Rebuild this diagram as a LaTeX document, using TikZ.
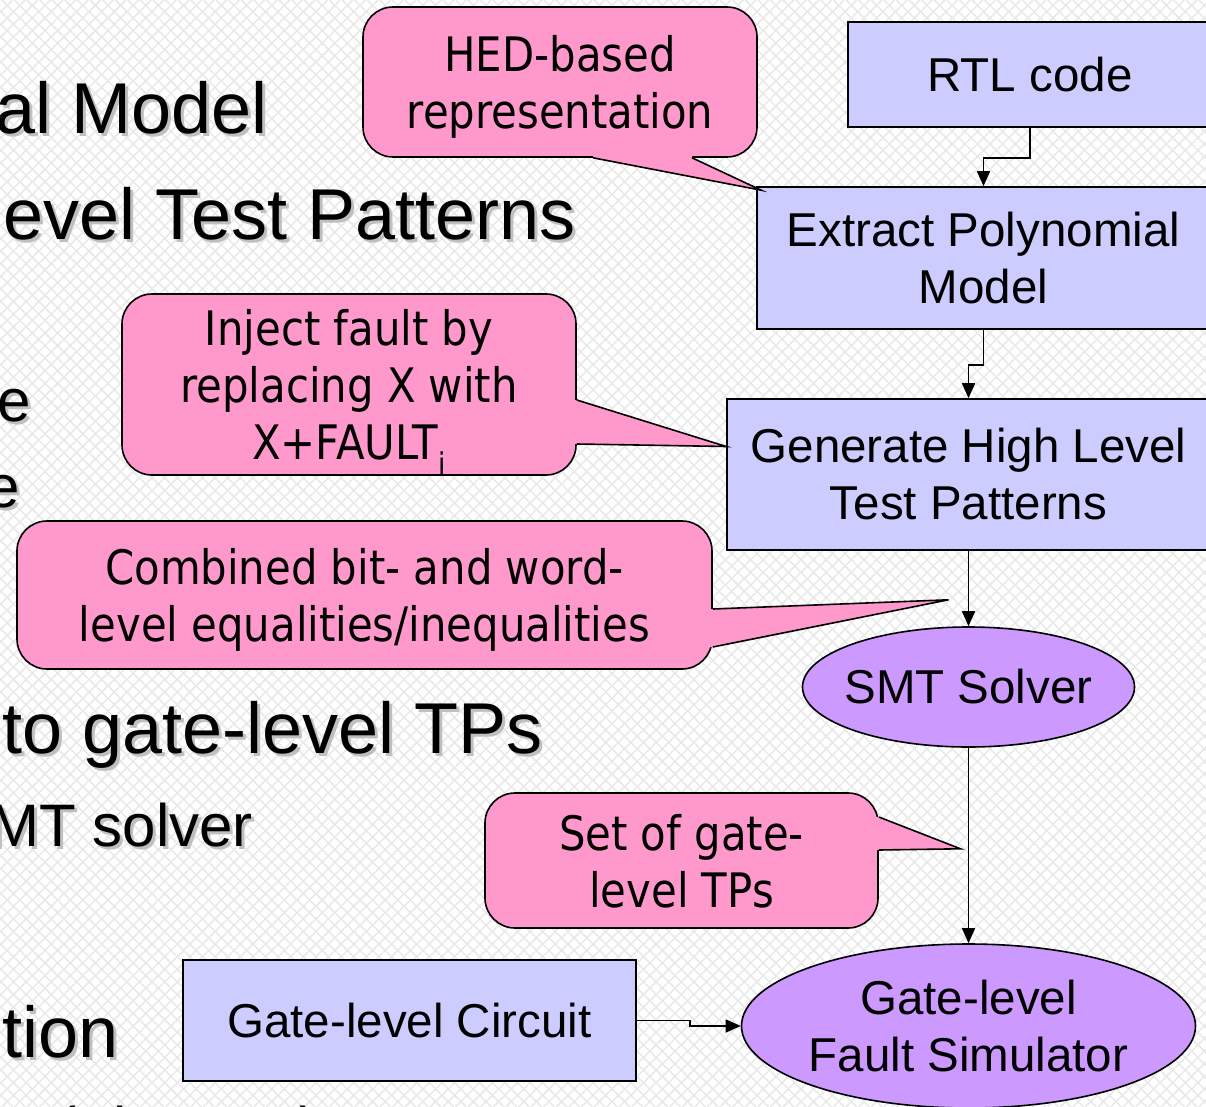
\documentclass[tikz,border=0pt]{standalone}
\usepackage{fontspec}
\setmainfont{Liberation Sans}
\newfontfamily\callfont[FakeStretch=0.88]{DejaVu Sans}
\usepackage{xcolor}
\usepackage{tikz}
\usetikzlibrary{arrows.meta}
\usetikzlibrary{calc}
\usetikzlibrary{positioning}
\usetikzlibrary{shapes.geometric}

\definecolor{boxblue}{RGB}{204,204,255}
\definecolor{callpink}{RGB}{255,153,204}
\definecolor{ovalviolet}{RGB}{204,153,255}
\definecolor{latticegray}{RGB}{233,233,233}

\begin{document}
\begin{tikzpicture}[x=1pt, y=-1pt,
    stagebox/.style={draw, line width=1.6pt, fill=boxblue, align=center,
      inner sep=0pt, font=\fontsize{47.5}{57}\selectfont},
    stageoval/.style={ellipse, draw, line width=1.6pt, fill=ovalviolet,
      align=center, inner sep=0pt, font=\fontsize{47.5}{57}\selectfont},
    remark/.style={draw, line width=1.6pt, fill=callpink, rounded corners=30pt,
      align=center, inner sep=0pt, text depth=0pt,
      font=\callfont\fontsize{47.5}{57}\selectfont},
    flow/.style={line width=1.6pt, -{Triangle[length=15pt,width=13pt]}},
    pointer/.style={line width=1.6pt, line join=miter},
    bigline/.style={font=\fontsize{72}{80}\selectfont, anchor=base east, inner sep=0pt},
    subline/.style={font=\fontsize{60}{66}\selectfont, anchor=base east, inner sep=0pt}]

    \useasboundingbox (0,0) rectangle (1206,1107);

    % slide background with the faint lattice and the cut bullet text
    \begin{scope}
      \clip (0,0) rectangle (1206,1107);
      \fill[white] (0,0) rectangle (1206,1107);
      \foreach \k in {0,...,185} {
        \draw[latticegray, line width=1.5pt] (\k*12.6,0) -- (\k*12.6-1107,1107);
        \draw[latticegray, line width=1.5pt] (\k*12.6-1107,0) -- (\k*12.6,1107);
      }
      \foreach \x/\y/\lvl/\txt [count=\i] in {268/134/bigline/al Model,
          576/240/bigline/evel Test Patterns, 31/421/subline/e, 20/507/subline/e,
          543/753/bigline/to gate-level TPs, 253/846/subline/MT solver,
          119/1057/bigline/tion, 320/1149/subline/(FlexTest)} {
        \node[\lvl, text=gray!50] (shade-\i) at (\x+3,\y+3) {\txt};
        \node[\lvl] (bullet-\i) at (\x,\y) {\txt};
      }
    \end{scope}

    % flow
    \node[stagebox, minimum width=364pt, minimum height=105pt] (rtl) at (1030,74.5) {RTL code};
    \node[stagebox, minimum width=453pt, minimum height=142pt] (extract) at (983.5,258)
      {Extract Polynomial\\Model};
    \node[stagebox, minimum width=483pt, minimum height=151pt] (generate) at (968.5,474.5)
      {Generate High Level\\Test Patterns};
    \node[stageoval, inner xsep=-7pt, minimum width=332pt, minimum height=120pt] (smt)
      at (968.5,687) {SMT Solver};
    \node[stageoval, minimum width=454pt, minimum height=164pt] (faultsim) at (968.5,1026)
      {Gate-level\\Fault Simulator};
    \node[stagebox, minimum width=453pt, minimum height=121pt] (circuit) at (409.5,1020.5)
      {Gate-level Circuit};

    \draw[flow] (rtl.south) -- ++(0,30) -| (extract.north);
    \draw[flow] (extract.south) -- ++(0,35) -| (generate.north);
    \draw[flow] (generate.south) -- (smt.north);
    \draw[flow] (smt.south) -- (faultsim.north);
    \draw[flow] (circuit.east) -- ++(53,0) |- (faultsim.west);

    % callouts
    \node[remark, minimum width=394pt, minimum height=150pt] (hed) at (560,82)
      {HED-based\\representation};
    \node[remark, minimum width=454pt, minimum height=181pt] (inject) at (349,384.5)
      {Inject fault by\\replacing X with\\X+FAULT\raisebox{-15pt}{\fontsize{30}{30}\selectfont i}};
    \node[remark, minimum width=695pt, minimum height=148pt] (combined) at (364.5,595)
      {Combined bit- and word-\\level equalities/inequalities};
    \node[remark, minimum width=393pt, minimum height=135pt] (tpset) at (681.5,860.5)
      {Set of gate-\\level TPs};

    \coordinate (hedtip) at ($(extract.north west)+(5,4)$);
    \coordinate (injecttip) at ($(generate.west)+(0,-28)$);
    \coordinate (combtip) at ($(generate.south)+(-20,49)$);
    \coordinate (settip) at ($(smt.south)+(-8,101)$);

    \fill[callpink] ($(hed.south)+(33,-5)$) -- ($(hed.south)+(33,0)$) -- (hedtip)
      -- ($(hed.south)+(132,0)$) -- ($(hed.south)+(132,-5)$) -- cycle;
    \draw[pointer] ($(hed.south)+(33,0)$) -- (hedtip) -- ($(hed.south)+(132,0)$);

    \fill[callpink] ($(inject.east)+(-5,15.5)$) -- ($(inject.east)+(0,15.5)$) -- (injecttip)
      -- ($(inject.east)+(0,59.5)$) -- ($(inject.east)+(-5,59.5)$) -- cycle;
    \draw[pointer] ($(inject.east)+(0,15.5)$) -- (injecttip) -- ($(inject.east)+(0,59.5)$);

    \fill[callpink] ($(combined.east)+(-5,14)$) -- ($(combined.east)+(0,14)$) -- (combtip)
      -- ($(combined.east)+(0,52)$) -- ($(combined.east)+(-5,52)$) -- cycle;
    \draw[pointer] ($(combined.east)+(0,14)$) -- (combtip) -- ($(combined.east)+(0,52)$);

    \fill[callpink] ($(tpset.east)+(-5,-43.5)$) -- ($(tpset.east)+(0,-43.5)$) -- (settip)
      -- ($(tpset.east)+(0,-10.5)$) -- ($(tpset.east)+(-5,-10.5)$) -- cycle;
    \draw[pointer] ($(tpset.east)+(0,-43.5)$) -- (settip) -- ($(tpset.east)+(0,-10.5)$);

\end{tikzpicture}
\end{document}
